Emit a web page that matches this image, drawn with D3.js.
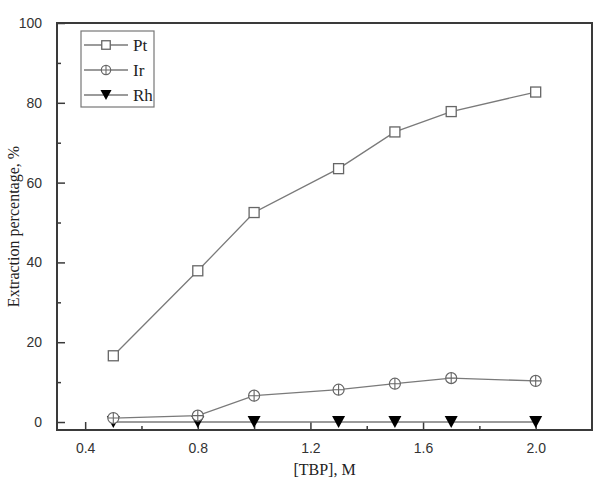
<!DOCTYPE html>
<html>
<head>
<meta charset="utf-8">
<script src="https://cdn.jsdelivr.net/npm/d3@7"></script>
<style>
  body { margin: 0; background: #fff; }
</style>
</head>
<body>
<div id="chart"></div>
<script>
// data
var tbp = [0.5, 0.8, 1.0, 1.3, 1.5, 1.7, 2.0];
var ptValues = [16.6, 37.9, 52.5, 63.5, 72.7, 77.8, 82.7];
var irValues = [1.0, 1.6, 6.6, 8.1, 9.6, 11.0, 10.3];
var rhValues = [0, 0, 0, 0, 0, 0, 0];
var seriesNames = ["Pt", "Ir", "Rh"];
var xTicks = [0.4, 0.8, 1.2, 1.6, 2.0];
var xMinor = [0.6, 1.0, 1.4, 1.8];
var yTicks = [0, 20, 40, 60, 80, 100];
var yMinor = [10, 30, 50, 70, 90];

var margin = { top: 23, right: 3, bottom: 50, left: 57 },
    width = 595 - margin.left - margin.right,
    height = 480 - margin.top - margin.bottom;

var sansFont = "'Liberation Sans', Arial, sans-serif";
var serifFont = "'Liberation Serif', 'Times New Roman', serif";

var svg = d3.select("#chart")
    .append("svg")
    .attr("width", 595)
    .attr("height", 480)
    .append("g")
    .attr("transform", `translate(${margin.left}, ${margin.top})`);

var x = d3.scaleLinear().domain([0.3, 2.2]).range([0, width]);
var y = d3.scaleLinear().domain([-2, 100]).range([height, 0]);

var frameColor = "#3a3a3a";
var lineColor = "#7a7a7a";

// ticks point inward
svg.append("g")
    .attr("transform", `translate(0, ${height})`)
    .call(d3.axisBottom(x).tickValues(xTicks).tickSizeInner(-8).tickSizeOuter(0).tickPadding(13).tickFormat(d3.format(".1f")))
    .call(g => g.select(".domain").remove())
    .call(g => g.selectAll("line").attr("stroke", frameColor).attr("stroke-width", 1.5))
    .call(g => g.selectAll("text").attr("font-family", sansFont).attr("font-size", 14).attr("fill", "#333"));
svg.append("g")
    .attr("transform", `translate(0, ${height})`)
    .call(d3.axisBottom(x).tickValues(xMinor).tickSizeInner(-4).tickSizeOuter(0).tickFormat(""))
    .call(g => g.select(".domain").remove())
    .call(g => g.selectAll("line").attr("stroke", frameColor).attr("stroke-width", 1.5));

svg.append("g")
    .call(d3.axisLeft(y).tickValues(yTicks).tickSizeInner(-8).tickSizeOuter(0).tickPadding(15))
    .call(g => g.select(".domain").remove())
    .call(g => g.selectAll("line").attr("stroke", frameColor).attr("stroke-width", 1.5))
    .call(g => g.selectAll("text").attr("font-family", sansFont).attr("font-size", 14).attr("fill", "#333"));
svg.append("g")
    .call(d3.axisLeft(y).tickValues(yMinor).tickSizeInner(-4).tickSizeOuter(0).tickFormat(""))
    .call(g => g.select(".domain").remove())
    .call(g => g.selectAll("line").attr("stroke", frameColor).attr("stroke-width", 1.5));

// frame
svg.append("rect")
    .attr("width", width)
    .attr("height", height)
    .attr("fill", "none")
    .attr("stroke", frameColor)
    .attr("stroke-width", 2);

var line = d3.line()
    .x(function (d, i) { return x(tbp[i]); })
    .y(function (d) { return y(d); });

function drawSeries(values) {
    svg.append("path")
        .datum(values)
        .attr("d", line)
        .attr("fill", "none")
        .attr("stroke", lineColor)
        .attr("stroke-width", 1.3);
}
drawSeries(ptValues);
drawSeries(irValues);
drawSeries(rhValues);

function square(g, k) {
    var s = 5 * k;
    g.append("rect").attr("x", -s).attr("y", -s).attr("width", 2 * s).attr("height", 2 * s)
        .attr("fill", "#fff").attr("stroke", "#666").attr("stroke-width", 1.3);
}
function circlePlus(g, k) {
    var r = 5.5 * k;
    g.append("circle").attr("r", r).attr("fill", "#fff").attr("stroke", "#666").attr("stroke-width", 1.2);
    g.append("path").attr("d", `M${-r},0H${r}M0,${-r}V${r}`).attr("stroke", "#666").attr("stroke-width", 1.1);
}
function triangle(g, k) {
    var w = 6.5 * k, h = 6 * k;
    g.append("path").attr("d", `M${-w},${-h}L${w},${-h}L0,${h}Z`).attr("fill", "#000");
}
var markers = [square, circlePlus, triangle];
var allValues = [ptValues, irValues, rhValues];

[2, 1, 0].forEach(function (s) {
    svg.append("g").selectAll("g")
        .data(allValues[s])
        .join("g")
        .attr("transform", function (d, i) { return `translate(${x(tbp[i])}, ${y(d)})`; })
        .each(function () { markers[s](d3.select(this), 1); });
});

// legend
var legend = svg.append("g").attr("transform", "translate(24, 8)");
legend.append("rect")
    .attr("width", 73).attr("height", 76)
    .attr("fill", "#fff").attr("stroke", "#777").attr("stroke-width", 1.2);
seriesNames.forEach(function (name, i) {
    var row = legend.append("g").attr("transform", `translate(0, ${14 + i * 25})`);
    row.append("line").attr("x1", 3).attr("x2", 47).attr("stroke", lineColor).attr("stroke-width", 1.3);
    var m = row.append("g").attr("transform", "translate(25, 0)");
    markers[i](m, 0.85);
    row.append("text").attr("x", 52).attr("y", 6)
        .attr("font-family", serifFont)
        .attr("font-size", 17).attr("fill", "#222").text(name);
});

// axis titles
svg.append("text")
    .attr("x", width / 2).attr("y", height + 45)
    .attr("text-anchor", "middle")
    .attr("font-family", serifFont)
    .attr("font-size", 16).attr("fill", "#222")
    .text("[TBP], M");
svg.append("text")
    .attr("transform", `translate(-38, ${height / 2}) rotate(-90)`)
    .attr("text-anchor", "middle")
    .attr("font-family", serifFont)
    .attr("font-size", 16).attr("fill", "#222")
    .text("Extraction percentage, %");
</script>
</body>
</html>
